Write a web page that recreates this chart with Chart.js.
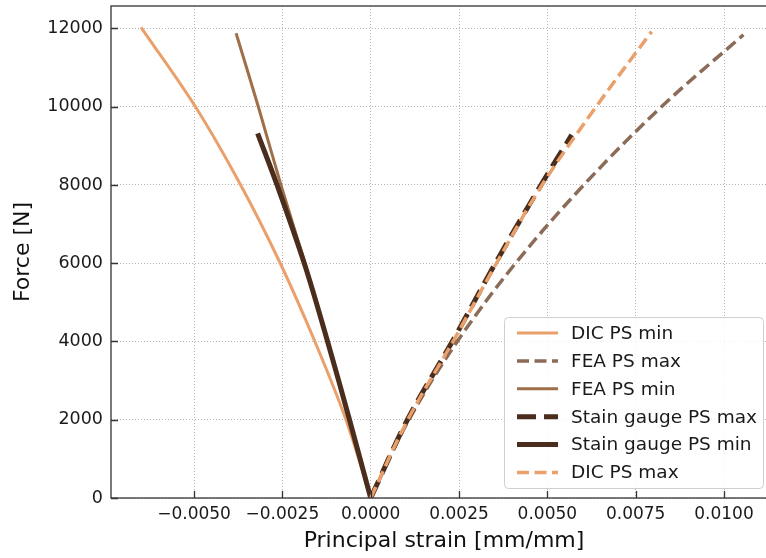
<!DOCTYPE html>
<html>
<head>
<meta charset="utf-8">
<script src="https://cdn.jsdelivr.net/npm/chart.js@4/dist/chart.umd.min.js"></script>
<style>
  html, body { margin: 0; padding: 0; background: #fff; overflow: hidden; }
  #wrap { width: 766px; height: 558px; overflow: hidden; position: relative; }
  canvas { display: block; }
</style>
</head>
<body>
<div id="wrap"><canvas id="c" width="790" height="558"></canvas></div>
<script>
// Force [N] against principal strain [mm/mm], one pair of arrays per curve
const dicMinForce  = [0, 2000, 4000, 6000, 8000, 10000, 12030];
const dicMinStrain = [0, -0.0007, -0.00158, -0.00256, -0.00368, -0.00496, -0.0065];

const feaMaxForce  = [0, 2000, 4000, 6000, 8000, 10000, 11840];
const feaMaxStrain = [0, 0.00108, 0.00245, 0.0041, 0.00603, 0.00823, 0.01055];

const feaMinForce  = [0, 2000, 4000, 6000, 8000, 10000, 11880];
const feaMinStrain = [0, -0.0006, -0.00122, -0.00186, -0.00254, -0.00318, -0.00381];

const sgMaxForce   = [0, 2000, 4000, 6000, 8000, 9280];
const sgMaxStrain  = [0, 0.00104, 0.00231, 0.00353, 0.00482, 0.00569];

const sgMinForce   = [0, 2000, 4000, 6000, 8000, 9320];
const sgMinStrain  = [0, -0.0006, -0.00122, -0.00188, -0.00265, -0.0032];

const dicMaxForce  = [0, 2000, 4000, 6000, 8000, 10000, 11920];
const dicMaxStrain = [0, 0.00105, 0.00233, 0.00356, 0.00485, 0.00638, 0.00795];

const seriesNames = ['DIC PS min', 'FEA PS max', 'FEA PS min',
                     'Stain gauge PS max', 'Stain gauge PS min', 'DIC PS max'];

const xTickValues = [-0.005, -0.0025, 0, 0.0025, 0.005, 0.0075, 0.01];
const xTickLabels = ['\u22120.0050', '\u22120.0025', '0.0000', '0.0025', '0.0050', '0.0075', '0.0100'];
const yTickValues = [0, 2000, 4000, 6000, 8000, 10000, 12000];
const yTickLabels = ['0', '2000', '4000', '6000', '8000', '10000', '12000'];

const FONT = "'DejaVu Sans', 'Liberation Sans', sans-serif";
const C_DIC = '#e9a06b';
const C_FEA_MAX = '#8b6c58';
const C_FEA_MIN = '#a06e48';
const C_SG = '#4a2d1d';

function pts(xs, ys) {
  return xs.map((v, i) => ({ x: v, y: ys[i] }));
}

const datasets = [
  { label: seriesNames[0], data: pts(dicMinStrain, dicMinForce), borderColor: C_DIC, borderWidth: 3, borderDash: [], order: 6 },
  { label: seriesNames[1], data: pts(feaMaxStrain, feaMaxForce), borderColor: C_FEA_MAX, borderWidth: 3.5, borderDash: [12, 5.5], order: 5 },
  { label: seriesNames[2], data: pts(feaMinStrain, feaMinForce), borderColor: C_FEA_MIN, borderWidth: 3, borderDash: [], order: 4 },
  { label: seriesNames[3], data: pts(sgMaxStrain, sgMaxForce), borderColor: C_SG, borderWidth: 5, borderDash: [19, 8], order: 3 },
  { label: seriesNames[4], data: pts(sgMinStrain, sgMinForce), borderColor: C_SG, borderWidth: 5, borderDash: [], order: 2 },
  { label: seriesNames[5], data: pts(dicMaxStrain, dicMaxForce), borderColor: C_DIC, borderWidth: 3.5, borderDash: [12, 5.5], order: 1 }
].map(d => Object.assign(d, { fill: false, pointRadius: 0, tension: 0.35, showLine: true }));

// Axes frame, inward tick marks and the boxed legend
const framePlugin = {
  id: 'frame',
  afterDatasetsDraw(chart) {
    const { ctx, chartArea: a, scales } = chart;
    ctx.save();
    ctx.strokeStyle = '#333';
    ctx.lineWidth = 1.3;
    ctx.setLineDash([]);
    ctx.beginPath();
    xTickValues.forEach(v => {
      const px = Math.round(scales.x.getPixelForValue(v)) + 0.5;
      ctx.moveTo(px, a.bottom);
      ctx.lineTo(px, a.bottom - 7);
    });
    yTickValues.forEach(v => {
      const py = Math.round(scales.y.getPixelForValue(v)) + 0.5;
      ctx.moveTo(a.left, py);
      ctx.lineTo(a.left + 7, py);
    });
    ctx.stroke();
    ctx.strokeRect(a.left, a.top, a.right - a.left, a.bottom - a.top);
    ctx.restore();
  },
  afterDraw(chart) {
    const { ctx, chartArea: a } = chart;
    const boxR = a.right - 14, boxB = a.bottom - 10;
    const boxW = 259, boxH = 171;
    const boxL = boxR - boxW, boxT = boxB - boxH;
    ctx.save();
    ctx.beginPath();
    ctx.roundRect(boxL + 0.5, boxT + 0.5, boxW, boxH, 4);
    ctx.fillStyle = 'rgba(255,255,255,0.82)';
    ctx.fill();
    ctx.strokeStyle = '#cfcfcf';
    ctx.lineWidth = 1;
    ctx.stroke();

    ctx.font = '18.5px ' + FONT;
    ctx.textBaseline = 'middle';
    ctx.textAlign = 'left';
    const rowH = 27.9;
    chart.data.datasets.forEach((ds, i) => {
      const cy = boxT + 16 + i * rowH;
      ctx.save();
      ctx.strokeStyle = ds.borderColor;
      ctx.lineWidth = ds.borderWidth;
      ctx.setLineDash(ds.borderDash || []);
      ctx.lineCap = 'butt';
      ctx.beginPath();
      ctx.moveTo(boxL + 13, cy);
      ctx.lineTo(boxL + 54, cy);
      ctx.stroke();
      ctx.restore();
      ctx.fillStyle = '#1a1a1a';
      ctx.fillText(ds.label, boxL + 67, cy + 1);
    });
    ctx.restore();
  }
};

new Chart(document.getElementById('c').getContext('2d'), {
  type: 'scatter',
  data: { datasets },
  options: {
    responsive: false,
    animation: false,
    devicePixelRatio: 1,
    layout: { padding: { top: 6, right: 13, left: 0, bottom: 0 } },
    plugins: { legend: { display: false }, tooltip: { enabled: false } },
    scales: {
      x: {
        type: 'linear',
        min: -0.00735,
        max: 0.0115,
        afterBuildTicks: s => { s.ticks = xTickValues.map(v => ({ value: v })); },
        afterFit: s => { s.height = 60; s.paddingLeft = 0; s.paddingRight = 0; },
        grid: { color: '#b4b4b4', lineWidth: 1, drawTicks: false },
        border: { display: false, dash: [1, 2] },
        ticks: {
          padding: 6,
          color: '#1a1a1a',
          font: { family: FONT, size: 17 },
          maxRotation: 0,
          callback: (v) => { const i = xTickValues.indexOf(v); return i >= 0 ? xTickLabels[i] : ''; }
        },
        title: {
          display: true,
          text: 'Principal strain [mm/mm]',
          color: '#111',
          font: { family: FONT, size: 22 },
          padding: { top: 0, bottom: 4 }
        }
      },
      y: {
        type: 'linear',
        min: 0,
        max: 12575,
        afterBuildTicks: s => { s.ticks = yTickValues.map(v => ({ value: v })); },
        afterFit: s => { s.width = 111; s.paddingTop = 0; s.paddingBottom = 0; },
        grid: { color: '#b4b4b4', lineWidth: 1, drawTicks: false },
        border: { display: false, dash: [1, 2] },
        ticks: {
          padding: 8,
          color: '#1a1a1a',
          font: { family: FONT, size: 17.5 },
          callback: (v) => { const i = yTickValues.indexOf(v); return i >= 0 ? yTickLabels[i] : ''; }
        },
        title: {
          display: true,
          text: 'Force [N]',
          color: '#111',
          font: { family: FONT, size: 22 },
          padding: { top: 10, bottom: 0 }
        }
      }
    }
  },
  plugins: [framePlugin]
});
</script>
</body>
</html>
